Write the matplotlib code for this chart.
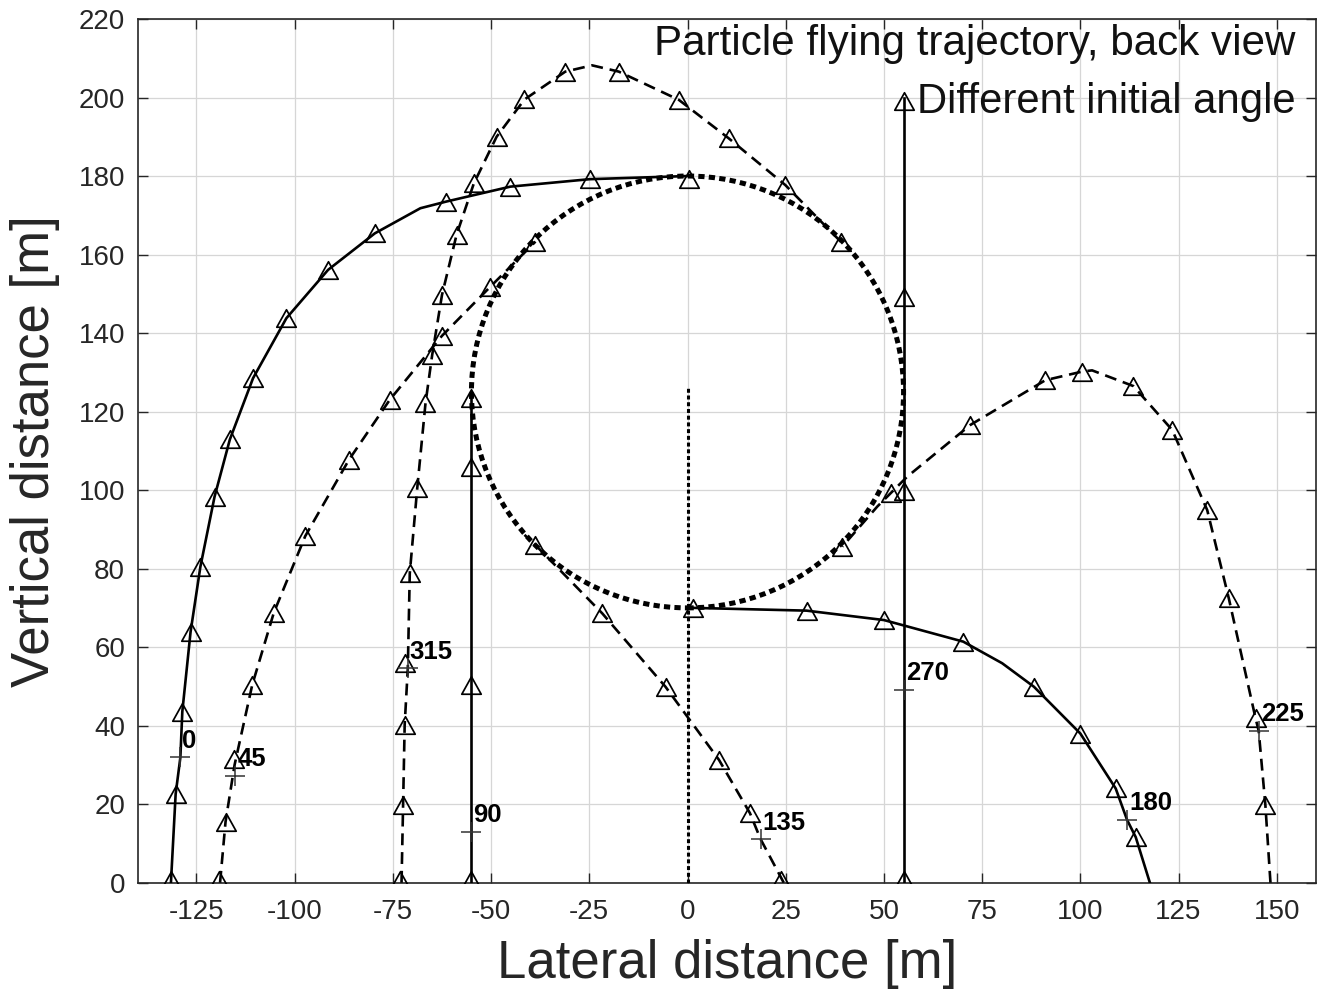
import matplotlib
matplotlib.use("Agg")
import matplotlib.pyplot as plt
from matplotlib.path import Path
from matplotlib.patches import Circle

plt.rcParams['font.family'] = ['Liberation Sans', 'DejaVu Sans']
plt.rcParams['axes.unicode_minus'] = False

# obstacle seen from behind: circle centre and radius [m]
hub_x, hub_y, hub_r = 0.0, 125.0, 55.0
mast_top = 126.0

# trajectories for each initial angle [deg]; path, triangle marks, time mark
x0 = [-131.5, -130.3, -129.1, -128.6, -126.5, -124.0, -120.4, -116.5, -110.6,
      -102.1, -91.5, -79.6, -68.0, -61.4, -45.1, -24.9, 0.0]
y0 = [0.0, 22.6, 31.9, 43.6, 63.9, 80.5, 98.3, 112.9, 128.5, 143.8, 156.1,
      165.4, 171.8, 173.5, 177.3, 179.2, 180.0]
mx0 = [-131.5, -130.3, -128.6, -126.5, -124.0, -120.4, -116.5, -110.6, -102.1,
       -91.5, -79.6, -61.4, -45.1, -24.9, 0.3]
my0 = [0.8, 22.6, 43.6, 63.9, 80.5, 98.3, 112.9, 128.5, 143.8, 156.1, 165.4,
       173.5, 177.3, 179.2, 179.2]

x45 = [-119.0, -117.6, -115.3, -110.8, -105.3, -97.3, -86.2, -75.8, -62.5,
       -50.2, -38.7]
y45 = [0.0, 15.5, 30.0, 50.4, 68.8, 88.3, 107.7, 123.0, 139.3, 151.8, 163.3]
mx45 = [-119.3, -117.6, -115.5, -110.8, -105.3, -97.3, -86.2, -75.8, -62.5,
        -50.2, -38.7]
my45 = [0.8, 15.5, 31.5, 50.4, 68.8, 88.3, 107.7, 123.0, 139.3, 151.8, 163.3]

x90 = [-55.0, -55.0]
y90 = [0.0, 125.0]
mx90 = [-55.0, -55.0, -55.0, -55.0]
my90 = [0.8, 50.3, 105.8, 123.4]

x135 = [24.5, 18.6, 15.9, 8.0, -5.6, -21.7, -38.7, -41.5]
y135 = [0.0, 11.1, 17.7, 31.3, 49.9, 68.6, 86.0, 88.6]
mx135 = [23.9, 15.9, 8.0, -5.6, -21.7, -38.7]
my135 = [0.7, 17.7, 31.3, 49.9, 68.6, 86.0]

x180 = [117.7, 114.1, 111.9, 109.0, 100.0, 88.2, 80.1, 70.2, 50.0, 30.3, 1.5,
        0.0]
y180 = [0.0, 11.6, 16.0, 24.0, 38.0, 49.9, 55.9, 61.4, 66.9, 69.3, 70.0, 70.0]
mx180 = [114.1, 109.0, 100.0, 88.2, 70.2, 50.0, 30.3, 1.5]
my180 = [11.6, 24.0, 38.0, 49.9, 61.4, 66.9, 69.3, 70.0]

x225 = [148.4, 147.1, 145.4, 144.6, 137.8, 132.3, 123.4, 113.5, 103.0, 100.5,
        91.1, 72.0, 55.9, 51.7, 48.3, 39.4]
y225 = [0.0, 19.8, 38.7, 41.9, 72.4, 94.9, 115.3, 126.5, 130.5, 130.2, 128.0,
        116.6, 103.4, 99.2, 95.8, 85.6]
mx225 = [147.1, 144.6, 137.8, 132.3, 123.4, 113.5, 100.5, 91.1, 72.0, 51.7,
         39.4]
my225 = [19.8, 41.9, 72.4, 94.9, 115.3, 126.5, 130.2, 128.0, 116.6, 99.2,
         85.6]

x270 = [55.2, 55.2]
y270 = [0.0, 200.0]
mx270 = [55.2, 55.2, 55.2, 55.2]
my270 = [0.8, 99.8, 149.3, 199.0]

x315 = [-72.8, -72.4, -72.0, -71.2, -70.7, -68.8, -66.7, -65.0, -62.5, -58.8,
        -54.4, -48.6, -41.5, -31.1, -24.3, -17.5, -2.2, 10.5, 24.9, 39.0]
y315 = [0.0, 19.8, 40.2, 54.6, 78.8, 100.5, 122.1, 134.4, 149.7, 165.0, 178.1,
        190.0, 199.5, 206.6, 208.2, 206.6, 199.4, 189.6, 177.7, 163.3]
mx315 = [-73.1, -72.4, -72.0, -71.8, -70.7, -68.8, -66.7, -65.0, -62.5, -58.8,
         -54.4, -48.6, -41.5, -31.1, -17.5, -2.2, 10.5, 24.9, 39.0]
my315 = [0.8, 19.8, 40.2, 55.9, 78.8, 100.5, 122.1, 134.4, 149.7, 165.0, 178.1,
         190.0, 199.5, 206.6, 206.6, 199.4, 189.6, 177.7, 163.3]

# time mark on each trajectory and its angle label
angle_labels = ['0', '45', '90', '135', '180', '225', '270', '315']
mark_x = [-129.1, -115.1, -55.1, 18.6, 111.9, 145.4, 55.2, -71.2]
mark_y = [31.9, 27.2, 13.0, 11.1, 16.0, 38.7, 49.1, 54.6]

x_ticks = list(range(-125, 151, 25))
y_ticks = list(range(0, 221, 20))

fig = plt.figure(figsize=(13.2, 10), dpi=100)
ax = fig.add_axes([0.1042, 0.1173, 0.8928, 0.8637])

# open triangle, a little wider than tall
tri = Path([(0, 0.9), (-1, -0.9), (1, -0.9), (0, 0.9)],
           [Path.MOVETO, Path.LINETO, Path.LINETO, Path.CLOSEPOLY])

solid = dict(color='k', lw=1.9, ls='-')
dashed = dict(color='k', lw=1.9, ls=(0, (4.5, 2.6)))
tri_kw = dict(ls='none', marker=tri, ms=14, mfc='none', mec='k', mew=1.25,
              zorder=4)

paths = [(x0, y0, solid), (x45, y45, dashed), (x90, y90, solid),
         (x135, y135, dashed), (x180, y180, solid), (x225, y225, dashed),
         (x270, y270, solid), (x315, y315, dashed)]
for px, py, kw in paths:
    ax.plot(px, py, zorder=3, **kw)

for mx, my in [(mx0, my0), (mx45, my45), (mx90, my90), (mx135, my135),
               (mx180, my180), (mx225, my225), (mx270, my270),
               (mx315, my315)]:
    ax.plot(mx, my, **tri_kw)

# obstacle outline and its vertical axis
ax.add_patch(Circle((hub_x, hub_y), hub_r, fill=False, ec='k', lw=3.6,
                    ls=(0, (1.25, 0.85)), zorder=3.5))
ax.plot([hub_x, hub_x], [0, mast_top], color='k', lw=2.2,
        ls=(0, (1.3, 0.9)), zorder=3)

# time marks with angle labels
ax.plot(mark_x, mark_y, ls='none', marker='+', ms=14, mew=1.1, color='#333333',
        zorder=4)
for lab, mx, my in zip(angle_labels, mark_x, mark_y):
    ax.text(mx + 0.5, my + 4.2, lab, fontsize=18.5, fontweight='bold',
            ha='left', va='center', zorder=5)

ax.text(154.8, 210.8, 'Particle flying trajectory, back view', fontsize=30.3,
        ha='right', va='baseline', color='#111111', zorder=5)
ax.text(154.8, 196.0, 'Different initial angle', fontsize=30.2,
        ha='right', va='baseline', color='#111111', zorder=5)

ax.set_xlim(-140, 160)
ax.set_ylim(0, 220)
ax.set_xticks(x_ticks)
ax.set_yticks(y_ticks)
ax.grid(True, color='#d6d6d6', lw=0.9)
ax.set_axisbelow(True)
ax.tick_params(direction='in', length=7, width=1.0, colors='#262626',
               labelsize=20, top=True, right=True)
ax.tick_params(axis='x', pad=12)
ax.tick_params(axis='y', pad=9)
for sp in ax.spines.values():
    sp.set_color('#262626')
    sp.set_linewidth(1.2)

ax.set_xlabel('Lateral distance [m]', fontsize=38, color='#262626')
ax.set_ylabel('Vertical distance [m]', fontsize=38, color='#262626')
ax.xaxis.set_label_coords(0.5, -0.065)
ax.yaxis.set_label_coords(-0.066, 0.5)

fig.savefig('out.png', dpi=100)
